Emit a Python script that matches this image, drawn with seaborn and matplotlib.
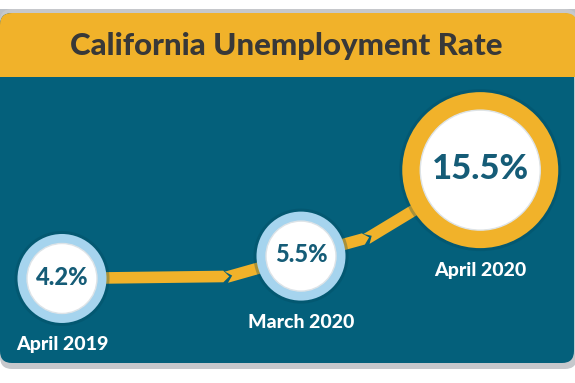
import numpy as np
import pandas as pd
import matplotlib
matplotlib.use("Agg")
import matplotlib.pyplot as plt
import seaborn as sns
from matplotlib.patches import FancyBboxPatch, Rectangle, Polygon

# ---------------- data ----------------
title = "California Unemployment Rate"
periods = ["April 2019", "March 2020", "April 2020"]
rates = [4.2, 5.5, 15.5]

# ---------------- layout / style ----------------
slots = [0.0, 1.0, 1.75]          # horizontal slot of each bubble
W, H, DPI = 575, 383, 100
TEAL = "#04607b"
GOLD = "#f1b22a"
BLUE = "#a6d4ee"
TXT_DARK = "#383838"
VAL_COL = "#155c77"
HEAVY = 900

sns.set_theme(style="white")
plt.rcParams["font.family"] = ["Lato", "DejaVu Sans"]

fig = plt.figure(figsize=(W / DPI, H / DPI), dpi=DPI)
fig.patch.set_facecolor("white")

# background panel (pixel coordinates)
bg = fig.add_axes([0, 0, 1, 1])
bg.set_xlim(0, W)
bg.set_ylim(H, 0)
bg.axis("off")

def rrect(x0, y0, x1, y1, color, r=12, z=1):
    bg.add_patch(FancyBboxPatch((x0, y0), x1 - x0, y1 - y0,
                                boxstyle=f"round,pad=0,rounding_size={r}",
                                facecolor=color, edgecolor="none", zorder=z))

bg.add_patch(Rectangle((0, 9), 577, 20, facecolor="#bcc0c6", edgecolor="none", zorder=1))
rrect(0, 9, 577, 369, "#c6c8cc", z=1)
rrect(0, 13, 574, 363, TEAL, z=2)
rrect(0, 13, 577, 77, GOLD, z=3)
bg.add_patch(Rectangle((0, 55), 577, 22, facecolor=GOLD, edgecolor="none", zorder=3))
bg.text(286, 46, title, ha="center", va="center", fontsize=22.5,
        fontweight=HEAVY, color=TXT_DARK, zorder=5)

# data axes
ax = fig.add_axes([0, 0, 1, 1])
ax.patch.set_alpha(0)
ax.set_yscale("log")
ax.set_xlim(-0.2594, 2.1464)
ax.set_ylim(1.192, 120.4)
ax.axis("off")

df = pd.DataFrame({"period": periods, "rate": rates, "slot": slots})
df["kind"] = np.where(df["rate"] == df["rate"].max(), "peak", "past")

R_OUT = {"past": 44.5, "peak": 78}
R_IN = {"past": 35, "peak": 60}
px2pt = 72 / DPI
s_out = {k: (2 * v * px2pt) ** 2 for k, v in R_OUT.items()}
s_in = {k: (2 * v * px2pt) ** 2 for k, v in R_IN.items()}
s_shadow = {k: (2 * (v + 3) * px2pt) ** 2 for k, v in R_OUT.items()}

# connector (gold band with chevron joints)
P = ax.transData.transform(np.column_stack([df["slot"], df["rate"]]))
kinks = [(0.70, 0.093), (0.38, 0.218)]
HW, D, GAP = 5.8, 6.0, 3.0

def piece(p0, p1, notch_start, point_end):
    u = (p1 - p0) / np.linalg.norm(p1 - p0)
    n = np.array([-u[1], u[0]])
    v = [p0 + n * HW]
    if notch_start:
        v.append(p0 + u * D)
    v.append(p0 - n * HW)
    if point_end:
        v += [p1 - u * D - n * HW, p1, p1 - u * D + n * HW]
    else:
        v += [p1 - n * HW, p1 + n * HW]
    data = ax.transData.inverted().transform(np.array(v))
    ax.add_patch(Polygon(data, closed=True, facecolor=GOLD,
                         edgecolor="none", zorder=2))

for i, (fx, fy) in enumerate(kinks):
    a, b = P[i], P[i + 1]
    k = np.array([a[0] + fx * (b[0] - a[0]), a[1] + fy * (b[1] - a[1])])
    piece(a, k, False, True)
    u2 = (b - k) / np.linalg.norm(b - k)
    piece(k + u2 * (GAP - D), b, True, False)

# bubbles
sns.scatterplot(data=df, x="slot", y="rate", size="kind", sizes=s_shadow,
                color="#02465c", alpha=0.3, linewidth=0, legend=False,
                ax=ax, zorder=3)
sns.scatterplot(data=df, x="slot", y="rate", hue="kind", size="kind",
                palette={"past": BLUE, "peak": GOLD}, sizes=s_out,
                linewidth=0, legend=False, ax=ax, zorder=4)
sns.scatterplot(data=df, x="slot", y="rate", size="kind", sizes=s_in,
                color="white", edgecolor="#dde3e7", linewidth=1.0,
                legend=False, ax=ax, zorder=5)

for _, r in df.iterrows():
    big = r["kind"] == "peak"
    ax.annotate(f"{r['rate']:.1f}%", (r["slot"], r["rate"]),
                xytext=(0, 1), textcoords="offset points",
                ha="center", va="center", fontsize=25 if big else 17,
                fontweight=HEAVY, color=VAL_COL, zorder=6)
    off = (R_OUT[r["kind"]] + 22) * px2pt
    ax.annotate(r["period"], (r["slot"], r["rate"]),
                xytext=(0, -off), textcoords="offset points",
                ha="center", va="center", fontsize=14,
                fontweight=HEAVY, color="white", zorder=6)

fig.savefig("out.png", dpi=DPI, facecolor="white")
